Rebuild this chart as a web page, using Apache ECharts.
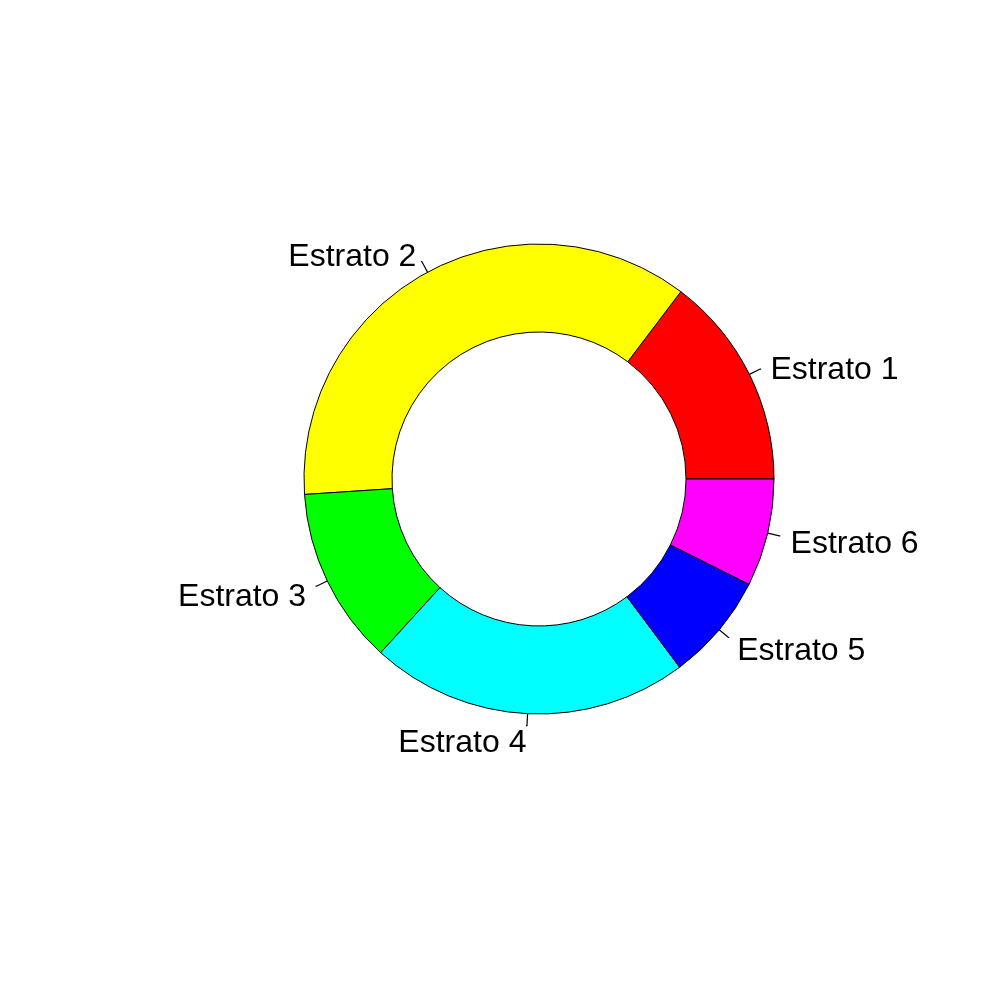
<!DOCTYPE html>
<html>
<head>
<meta charset="utf-8">
<script src="https://cdn.jsdelivr.net/npm/echarts@6/dist/echarts.min.js"></script>
<style>html,body{margin:0;padding:0;background:#fff;}#c{width:1000px;height:1000px;}</style>
</head>
<body>
<div id="c"></div>
<script>
const categories = ['Estrato 1', 'Estrato 2', 'Estrato 3', 'Estrato 4', 'Estrato 5', 'Estrato 6'];
const values = [14.7, 36.4, 12.2, 22.0, 7.4, 7.4];
const colors = ['#FF0000', '#FFFF00', '#00FF00', '#00FFFF', '#0000FF', '#FF00FF'];

const chart = echarts.init(document.getElementById('c'), null, {renderer: 'canvas'});
const data = categories.map((n, i) => ({name: n, value: values[i], itemStyle: {color: colors[i]}}));
const ghost = categories.map((n, i) => ({name: n, value: values[i]}));
const center = [539, 479];
chart.setOption({
  animation: false,
  backgroundColor: '#ffffff',
  series: [
    {
      type: 'pie',
      center: center,
      radius: [147, 235],
      startAngle: 0,
      clockwise: false,
      avoidLabelOverlap: false,
      z: 2,
      data: data,
      itemStyle: {borderColor: '#000', borderWidth: 1},
      label: {show: true, position: 'outside', color: '#ffffff', fontSize: 1, distanceToLabelLine: 0},
      labelLine: {show: true, length: 12, length2: 1, lineStyle: {color: '#000', width: 1.2}},
      labelLayout: {hideOverlap: false}
    },
    {
      type: 'pie',
      center: center,
      radius: [0, 258.5],
      startAngle: 0,
      clockwise: false,
      avoidLabelOverlap: false,
      silent: true,
      z: 3,
      data: ghost,
      itemStyle: {color: 'rgba(0,0,0,0)', borderWidth: 0},
      label: {show: true, position: 'outside', color: '#000', fontSize: 32, fontFamily: 'Liberation Sans, Arial, sans-serif', distanceToLabelLine: 0, offset: [0, 6]},
      labelLine: {show: false, length: 0, length2: 0},
      labelLayout: {hideOverlap: false},
      emphasis: {disabled: true}
    }
  ]
});
</script>
</body>
</html>
